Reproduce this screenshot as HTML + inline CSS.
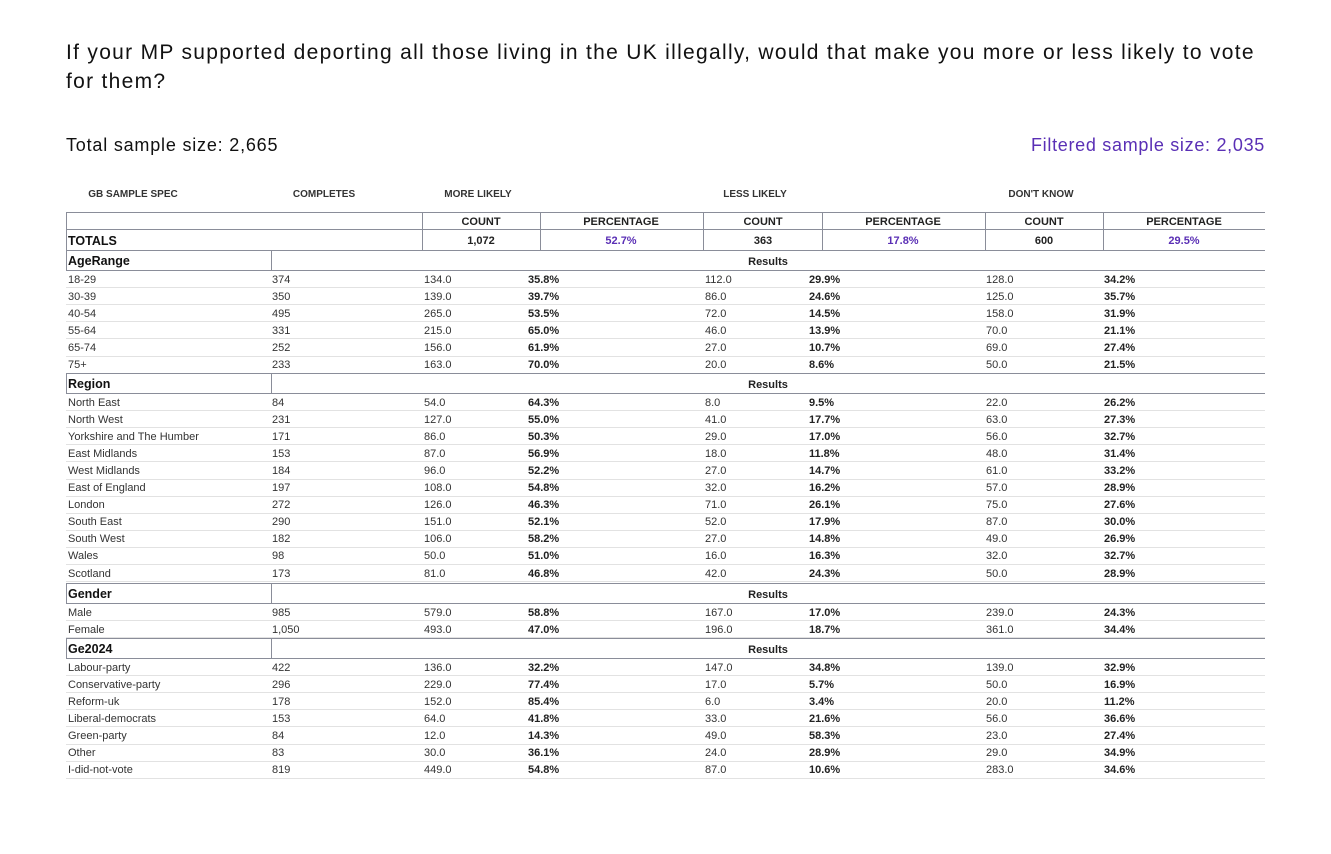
<!DOCTYPE html>
<html><head><meta charset="utf-8"><style>
body{margin:0;width:1331px;height:854px;background:#fff;font-family:"Liberation Sans",sans-serif;color:#222;position:relative;overflow:hidden}
.a{position:absolute;white-space:nowrap}
.t{font-size:21px;color:#111;left:66px;letter-spacing:1.3px}
.h{font-size:10px;font-weight:bold;color:#333;transform:translateX(-50%)}
.d{font-size:11px;color:#333;line-height:17px}
.b{font-weight:bold;color:#222}
.ln{position:absolute;height:1px;background:#e2e2e2;left:66px;width:1199px}
.dk{background:#8a8d99}
.v{position:absolute;width:1px;background:#8a8d99}
.p{color:#5a2fb5}
</style></head><body>
<div class="a t" style="top:41px">If your MP supported deporting all those living in the UK illegally, would that make you more or less likely to vote</div>
<div class="a t" style="top:70px">for them?</div>
<div class="a" style="left:66px;top:135px;font-size:18px;color:#111;letter-spacing:0.8px">Total sample size: 2,665</div>
<div class="a p" style="right:66px;top:135px;font-size:18px;letter-spacing:0.7px">Filtered sample size: 2,035</div>
<div class="a h" style="left:133px;top:189px">GB SAMPLE SPEC</div>
<div class="a h" style="left:324px;top:189px">COMPLETES</div>
<div class="a h" style="left:478px;top:189px">MORE LIKELY</div>
<div class="a h" style="left:755px;top:189px">LESS LIKELY</div>
<div class="a h" style="left:1041px;top:189px">DON'T KNOW</div>
<div id="c"></div>
<script>
var c=document.getElementById('c'),h='';
function L(y,cls){h+='<div class="ln '+(cls||'')+'" style="top:'+y+'px"></div>';}
function V(x,y1,y2){h+='<div class="v" style="left:'+x+'px;top:'+y1+'px;height:'+(y2-y1)+'px"></div>';}
function T(x,y,s,cls,center){h+='<div class="a d '+(cls||'')+'" style="left:'+x+'px;top:'+(y-7.5)+'px;'+(center?'transform:translateX(-50%)':'')+'">'+s+'</div>';}
L(212,'dk');L(229,'dk');L(250,'dk');
V(66,212,250);
[422,540,703,822,985,1103].forEach(function(x){V(x,212,250)});
var hc=[[481,'COUNT'],[621,'PERCENTAGE'],[763,'COUNT'],[903,'PERCENTAGE'],[1044,'COUNT'],[1184,'PERCENTAGE']];
hc.forEach(function(e){T(e[0],221,e[1],'b',1)});
h+='<div class="a d b" style="left:68px;top:233px;font-size:12.5px;color:#111">TOTALS</div>';
T(481,240,'1,072','b',1);T(621,240,'52.7%','b p',1);T(763,240,'363','b',1);T(903,240,'17.8%','b p',1);T(1044,240,'600','b',1);T(1184,240,'29.5%','b p',1);
var secs=[
['AgeRange',250,[['18-29',374,134,'35.8',112,'29.9',128,'34.2'],['30-39',350,139,'39.7',86,'24.6',125,'35.7'],['40-54',495,265,'53.5',72,'14.5',158,'31.9'],['55-64',331,215,'65.0',46,'13.9',70,'21.1'],['65-74',252,156,'61.9',27,'10.7',69,'27.4'],['75+',233,163,'70.0',20,'8.6',50,'21.5']]],
['Region',373,[['North East',84,54,'64.3',8,'9.5',22,'26.2'],['North West',231,127,'55.0',41,'17.7',63,'27.3'],['Yorkshire and The Humber',171,86,'50.3',29,'17.0',56,'32.7'],['East Midlands',153,87,'56.9',18,'11.8',48,'31.4'],['West Midlands',184,96,'52.2',27,'14.7',61,'33.2'],['East of England',197,108,'54.8',32,'16.2',57,'28.9'],['London',272,126,'46.3',71,'26.1',75,'27.6'],['South East',290,151,'52.1',52,'17.9',87,'30.0'],['South West',182,106,'58.2',27,'14.8',49,'26.9'],['Wales',98,50,'51.0',16,'16.3',32,'32.7'],['Scotland',173,81,'46.8',42,'24.3',50,'28.9']]],
['Gender',583,[['Male',985,579,'58.8',167,'17.0',239,'24.3'],['Female','1,050',493,'47.0',196,'18.7',361,'34.4']]],
['Ge2024',637.5,[['Labour-party',422,136,'32.2',147,'34.8',139,'32.9'],['Conservative-party',296,229,'77.4',17,'5.7',50,'16.9'],['Reform-uk',178,152,'85.4',6,'3.4',20,'11.2'],['Liberal-democrats',153,64,'41.8',33,'21.6',56,'36.6'],['Green-party',84,12,'14.3',49,'58.3',23,'27.4'],['Other',83,30,'36.1',24,'28.9',29,'34.9'],['I-did-not-vote',819,449,'54.8',87,'10.6',283,'34.6']]]
];
secs.forEach(function(s){
 var y0=Math.round(s[1]),y1=y0+20;
 L(y0,'dk');L(y1,'dk');V(66,y0,y1+1);V(271,y0,y1+1);
 h+='<div class="a b" style="left:68px;top:'+(y0+4)+'px;font-size:12.5px;color:#111">'+s[0]+'</div>';
 T(768,y0+11,'Results','b',1);
 var y=y1;
 s[2].forEach(function(r){
  var cy=y+9;
  T(68,cy,r[0]);T(272,cy,r[1]);T(424,cy,r[2].toFixed(1));T(528,cy,r[3]+'%','b');
  T(705,cy,r[4].toFixed(1));T(809,cy,r[5]+'%','b');T(986,cy,r[6].toFixed(1));T(1104,cy,r[7]+'%','b');
  y+=17.1;L(Math.round(y));
 });
});
c.innerHTML=h;
</script>
</body></html>
